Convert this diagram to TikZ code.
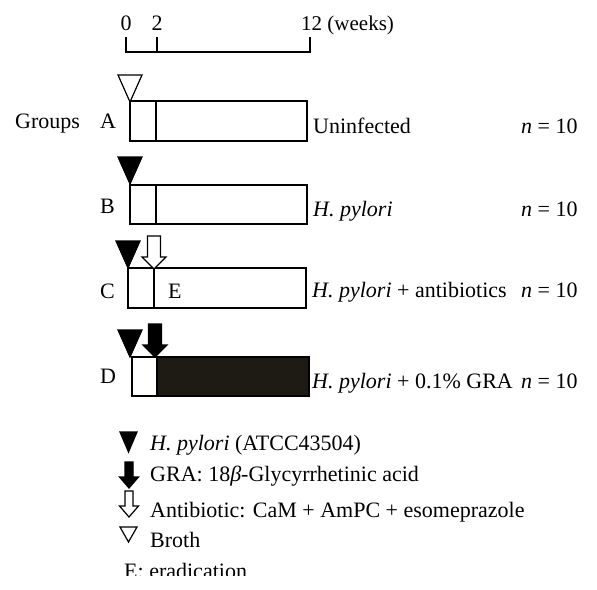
\documentclass[tikz,border=0pt]{standalone}
\usepackage{fontspec}
\setmainfont{Liberation Serif}
\definecolor{dk}{RGB}{30,26,20}
\tikzset{
  lbl/.style={anchor=base west, inner sep=0pt},
  lblc/.style={anchor=base, inner sep=0pt},
  boxline/.style={line width=1.3pt},
  divline/.style={line width=2.3pt},
  symline/.style={line width=1.2pt, line join=miter},
  bigtri/.pic={\path[pic actions] (0,0) -- (-12,-27) -- (12,-27) -- cycle;},
  smalltri/.pic={\path[pic actions] (0,0) -- (-8.5,-20) -- (8.5,-20) -- cycle;},
  flattri/.pic={\path[pic actions] (0,0) -- (-8.5,-15) -- (8.5,-15) -- cycle;},
  bigarrow/.pic={\path[pic actions] (0,0) -- (-12,-12) -- (-6.5,-12) -- (-6.5,-33) -- (6.5,-33) -- (6.5,-12) -- (12,-12) -- cycle;},
  smallarrow/.pic={\path[pic actions] (0,0) -- (-9.5,-11) -- (-4,-11) -- (-4,-26) -- (4,-26) -- (4,-11) -- (9.5,-11) -- cycle;},
}
\begin{document}
\begin{tikzpicture}[x=1pt,y=-1pt,font=\fontsize{22}{26}\selectfont]
\useasboundingbox (0,0) rectangle (597,589);

% time scale
\node[lblc] (t0) at (126,30) {0};
\node[lblc] (t2) at (157,30) {2};
\node[lbl,font=\fontsize{21}{25}\selectfont] (t12) at (301,30) {12 (weeks)};
\draw[line width=1.2pt] (126,37) -- (126,52) -- (310,52) -- (310,37);
\draw[line width=1.2pt] (157,37) -- (157,52);

% row labels
\node[lbl] (groups) at (15,128) {Groups};
\node[lbl] (la) at (100,128) {A};
\node[lbl] (lb) at (100,213) {B};
\node[lbl] (lc) at (100,298) {C};
\node[lbl] (ld) at (100,383) {D};

% row A
\draw[boxline] (130,101) rectangle (307,141);
\draw[divline] (156,101) -- (156,141);
\pic[symline, draw=black, fill=white] at (130,102) {bigtri};

% row B
\draw[boxline] (130,185) rectangle (307,224);
\draw[divline] (156,185) -- (156,224);
\pic[symline, draw=black, fill=black] at (130,184) {bigtri};

% row C
\draw[boxline] (128,268) rectangle (306,308);
\draw[divline] (154,268) -- (154,308);
\node[lbl] (e) at (168,298) {E};
\pic[symline, draw=black, fill=black] at (128,268) {bigtri};
\pic[symline, draw=black, fill=white] at (154,269) {bigarrow};

% row D
\fill[dk] (157,357) rectangle (309,396);
\draw[boxline] (132,357) rectangle (309,396);
\draw[boxline] (157,357) -- (157,396);
\pic[symline, draw=black, fill=black] at (130,357) {bigtri};
\pic[symline, draw=black, fill=black] at (155,357) {bigarrow};

% right labels
\node[lbl] (ra) at (313,133) {Uninfected};
\node[lbl] (rb) at (313,216) {\textit{H. pylori}};
\node[lbl] (rc) at (312,297) {\textit{H. pylori} + antibiotics};
\node[lbl] (rd) at (312,388) {\textit{H. pylori} + 0.1\% GRA};
\node[lbl] (na) at (521,133) {\textit{n} = 10};
\node[lbl] (nb) at (521,216) {\textit{n} = 10};
\node[lbl] (nc) at (521,297) {\textit{n} = 10};
\node[lbl] (nd) at (521,388) {\textit{n} = 10};

% legend
\pic[symline, draw=black, fill=black] at (128.5,452) {smalltri};
\node[lbl] (l1) at (150,450) {\textit{H. pylori} (ATCC43504)};
\pic[symline, draw=black, fill=black] at (129,488) {smallarrow};
\node[lbl] (l2) at (150,481) {GRA: 18\textit{β}-Glycyrrhetinic acid};
\pic[symline, draw=black, fill=white] at (129,517) {smallarrow};
\node[lbl] (l3) at (150,517) {Antibiotic: CaM + AmPC + esomeprazole};
\pic[symline, draw=black, fill=white] at (128.5,542) {flattri};
\node[lbl] (l4) at (150,547) {Broth};
\begin{scope}
\clip (0,0) rectangle (597,575);
\node[lbl] (l5) at (124,578) {E: eradication};
\end{scope}
\end{tikzpicture}
\end{document}
